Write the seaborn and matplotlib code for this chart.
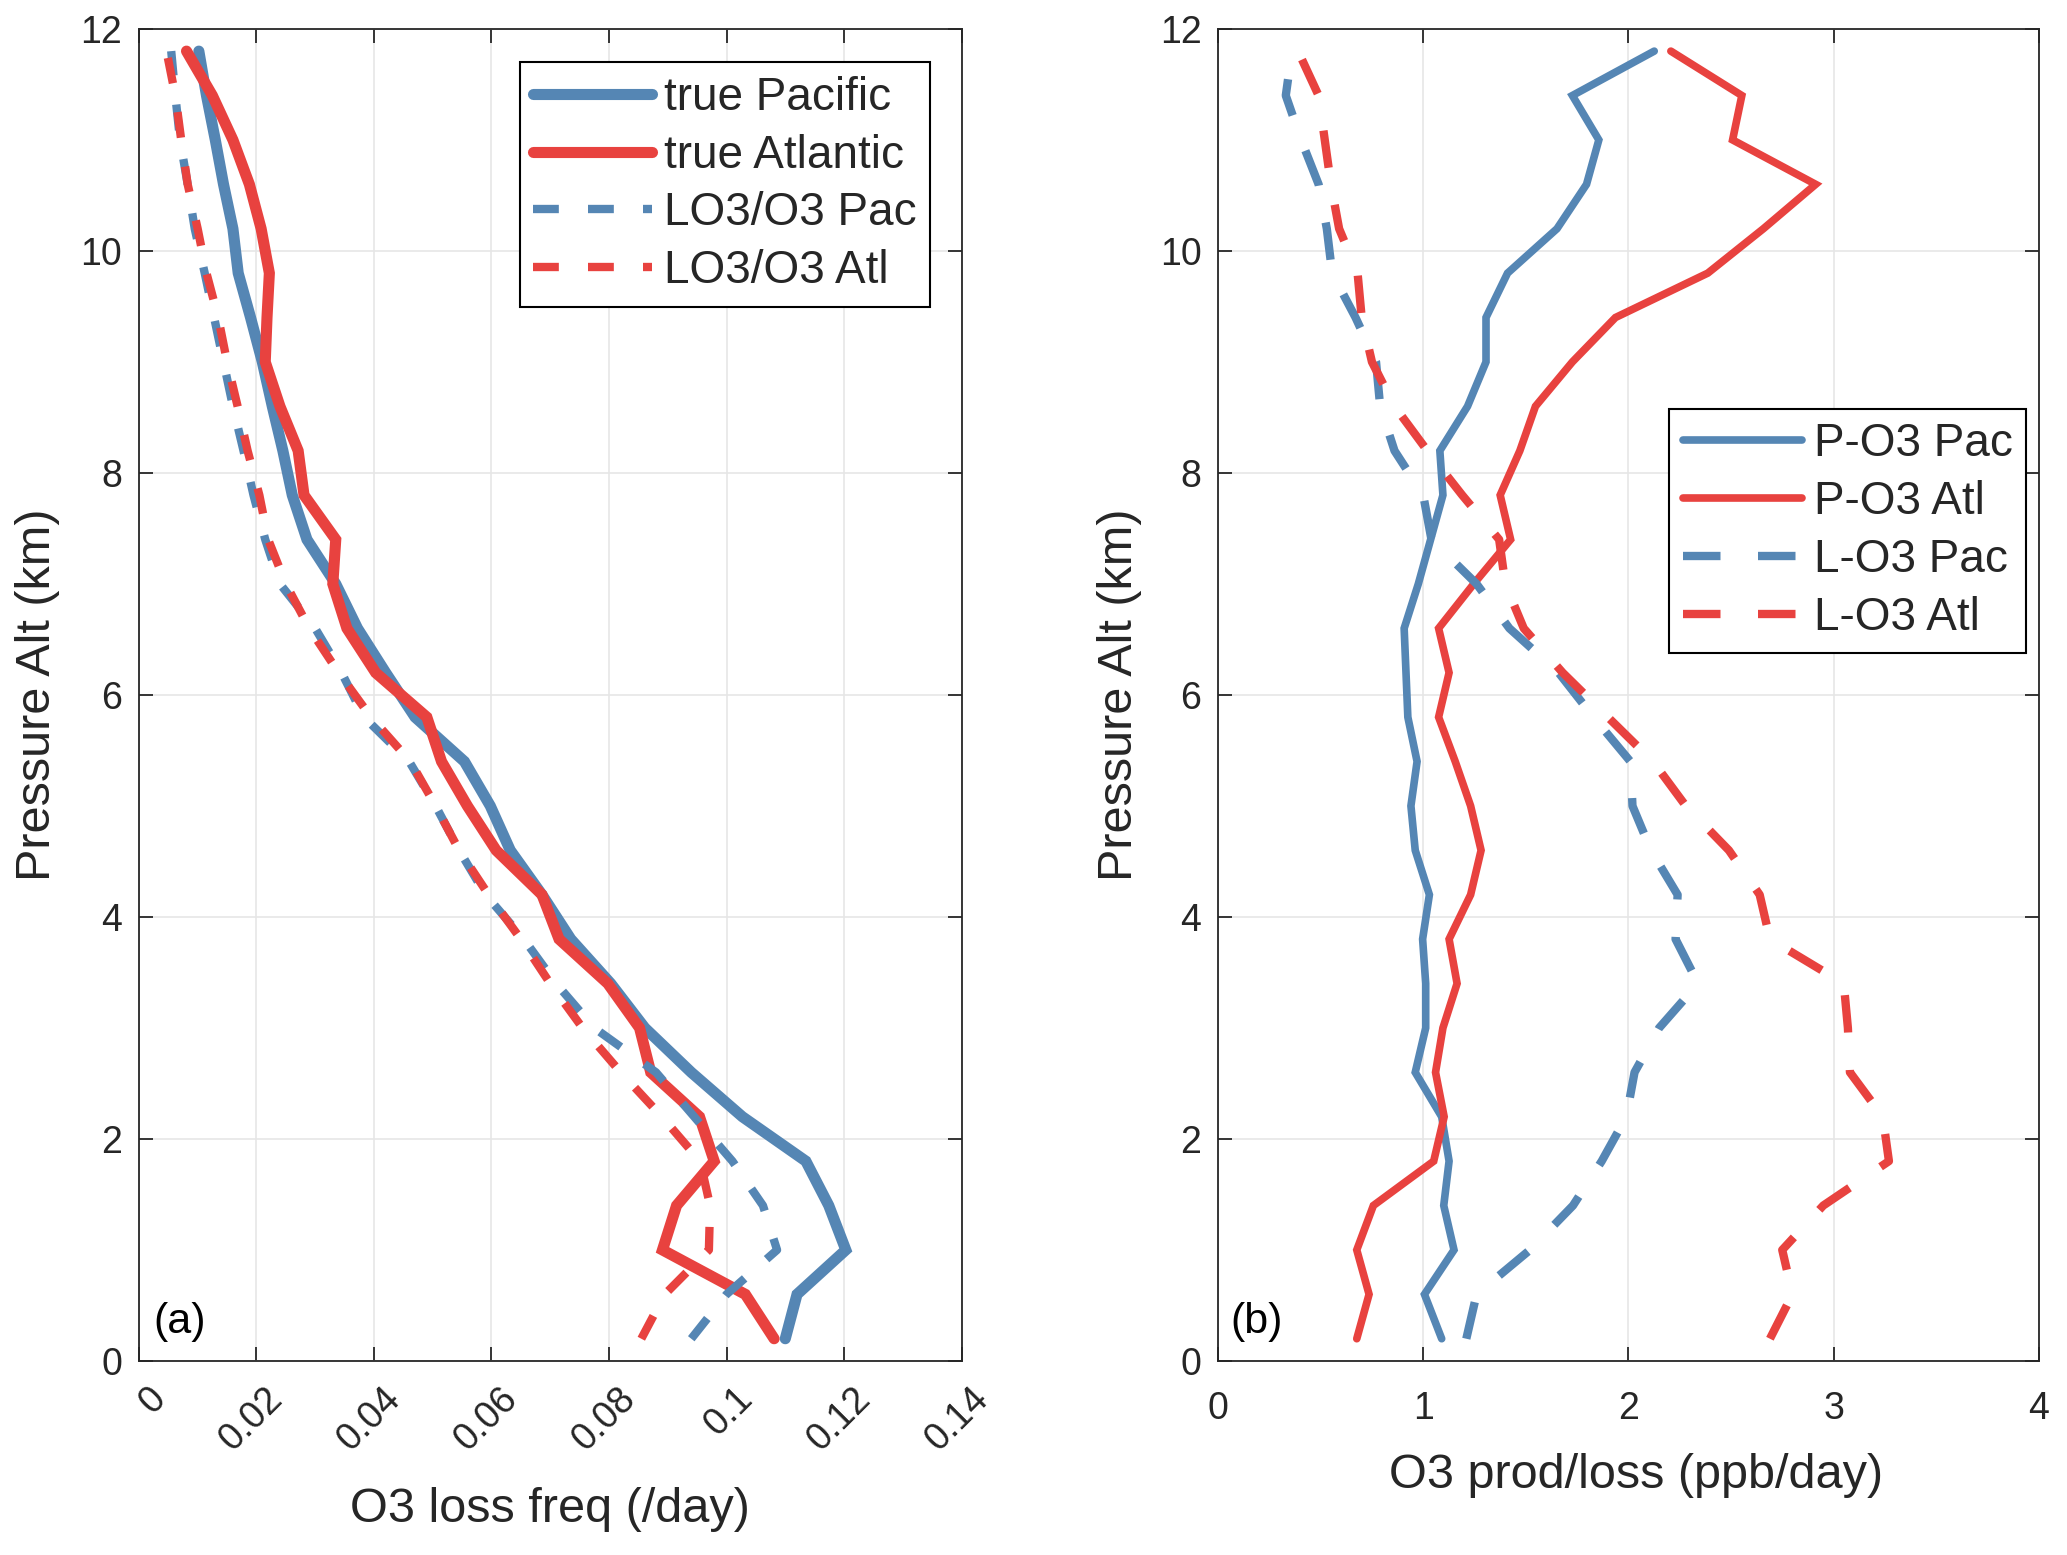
import numpy as np
import pandas as pd
import matplotlib
matplotlib.use("Agg")
import matplotlib.pyplot as plt
from matplotlib.transforms import ScaledTranslation
import seaborn as sns

# ---------------- data ----------------
alt = [0.2, 0.6, 1.0, 1.4, 1.8, 2.2, 2.6, 3.0, 3.4, 3.8, 4.2, 4.6, 5.0, 5.4, 5.8,
       6.2, 6.6, 7.0, 7.4, 7.8, 8.2, 8.6, 9.0, 9.4, 9.8, 10.2, 10.6, 11.0, 11.4, 11.8]

# panel (a): O3 loss frequency (/day)
true_pacific = [0.110, 0.112, 0.1203, 0.1174, 0.1135, 0.1027, 0.094, 0.0861, 0.0803, 0.0735,
                0.0686, 0.0632, 0.0598, 0.0554, 0.0470, 0.0420, 0.0372, 0.0335, 0.0286, 0.0261,
                0.0245, 0.0227, 0.0210, 0.0190, 0.0169, 0.0160, 0.0144, 0.0130, 0.0115, 0.0102]
true_atlantic = [0.1081, 0.1032, 0.0891, 0.0915, 0.0979, 0.0954, 0.0871, 0.0852, 0.0798, 0.0715,
                 0.0686, 0.0608, 0.0559, 0.0515, 0.0490, 0.0403, 0.0354, 0.0330, 0.0335, 0.0281,
                 0.0271, 0.0240, 0.0215, 0.0218, 0.0222, 0.0208, 0.0188, 0.0160, 0.0125, 0.0081]
lo3_pac = [0.0940, 0.1000, 0.1086, 0.1062, 0.1010, 0.0945, 0.0880, 0.0775, 0.0710, 0.0655,
           0.0590, 0.0545, 0.0505, 0.0460, 0.0383, 0.0345, 0.0300, 0.0240, 0.0215, 0.0195,
           0.0178, 0.0160, 0.0144, 0.0128, 0.0112, 0.0095, 0.0083, 0.0070, 0.0062, 0.0055]
lo3_atl = [0.0855, 0.0895, 0.0970, 0.0972, 0.0955, 0.0890, 0.0820, 0.0755, 0.0700, 0.0650,
           0.0595, 0.0545, 0.0505, 0.0462, 0.0395, 0.0340, 0.0290, 0.0250, 0.0220, 0.0205,
           0.0185, 0.0168, 0.0150, 0.0135, 0.0115, 0.0100, 0.0083, 0.0072, 0.0062, 0.0047]

# panel (b): O3 production / loss (ppb/day)
p_o3_pac = [1.09, 1.006, 1.15, 1.10, 1.126, 1.09, 0.961, 1.012, 1.012, 0.997,
            1.03, 0.961, 0.94, 0.97, 0.925, 0.916, 0.907, 0.976, 1.036, 1.096,
            1.081, 1.216, 1.306, 1.306, 1.411, 1.652, 1.796, 1.856, 1.727, 2.126]
p_o3_atl = [0.676, 0.736, 0.676, 0.757, 1.051, 1.102, 1.06, 1.096, 1.165, 1.126,
            1.231, 1.282, 1.231, 1.156, 1.075, 1.126, 1.075, 1.246, 1.426, 1.375,
            1.471, 1.547, 1.727, 1.937, 2.387, 2.658, 2.913, 2.508, 2.553, 2.207]
l_o3_pac = [1.21, 1.26, 1.52, 1.73, 1.87, 1.99, 2.03, 2.15, 2.34, 2.23,
            2.24, 2.11, 2.02, 2.01, 1.83, 1.66, 1.42, 1.26, 1.04, 1.00,
            0.86, 0.79, 0.77, 0.67, 0.556, 0.53, 0.49, 0.405, 0.33, 0.36]
l_o3_atl = [2.69, 2.80, 2.75, 2.95, 3.27, 3.24, 3.08, 3.07, 3.05, 2.69,
            2.64, 2.49, 2.28, 2.12, 1.90, 1.68, 1.49, 1.40, 1.37, 1.19,
            1.02, 0.86, 0.75, 0.70, 0.68, 0.59, 0.55, 0.52, 0.49, 0.39]

left_xticks = [0, 0.02, 0.04, 0.06, 0.08, 0.10, 0.12, 0.14]
left_xticklabels = ["0", "0.02", "0.04", "0.06", "0.08", "0.1", "0.12", "0.14"]
right_xticks = [0, 1, 2, 3, 4]
right_xticklabels = ["0", "1", "2", "3", "4"]
yticks = [0, 2, 4, 6, 8, 10, 12]
yticklabels = ["0", "2", "4", "6", "8", "10", "12"]

# ---------------- style ----------------
sns.set_theme(style="white")
plt.rcParams["font.family"] = ["Liberation Sans", "DejaVu Sans"]

BLUE = "#5586b4"
RED = "#e8423f"
DARK = "#262626"
GRID = "#e6e6e6"

fig = plt.figure(figsize=(20.67, 15.55), dpi=100)
axL = fig.add_axes([0.0672, 0.1248, 0.398, 0.8566])
axR = fig.add_axes([0.5893, 0.1248, 0.397, 0.8566])


def series_plot(ax, xvals, label, color, lw, ls):
    df = pd.DataFrame({"x": xvals, "alt": alt})
    sns.lineplot(data=df, x="x", y="alt", sort=False, estimator=None, orient="y",
                 color=color, linewidth=lw, linestyle=ls, label=label, ax=ax,
                 solid_joinstyle="miter", dash_capstyle="butt")


# left panel
series_plot(axL, true_pacific, "true Pacific", BLUE, 8.0, "-")
series_plot(axL, true_atlantic, "true Atlantic", RED, 8.0, "-")
series_plot(axL, lo3_pac, "LO3/O3 Pac", BLUE, 6.0, (0, (3.1, 3.5)))
series_plot(axL, lo3_atl, "LO3/O3 Atl", RED, 6.0, (0, (3.1, 3.5)))

# right panel
series_plot(axR, p_o3_pac, "P-O3 Pac", BLUE, 5.5, "-")
series_plot(axR, p_o3_atl, "P-O3 Atl", RED, 5.5, "-")
series_plot(axR, l_o3_pac, "L-O3 Pac", BLUE, 6.0, (0, (4.5, 4.5)))
series_plot(axR, l_o3_atl, "L-O3 Atl", RED, 6.0, (0, (4.5, 4.5)))

TICK_FS = 27
LABEL_FS = 35
LEG_FS = 33

for ax in (axL, axR):
    ax.set_ylim(0, 12)
    ax.set_yticks(yticks)
    ax.set_yticklabels(yticklabels)
    ax.grid(True, color=GRID, linewidth=1.2)
    ax.set_axisbelow(True)
    for sp in ax.spines.values():
        sp.set_visible(True)
        sp.set_color(DARK)
        sp.set_linewidth(1.3)
    ax.tick_params(axis="both", which="major", direction="in", length=10, width=1.3,
                   color=DARK, labelcolor=DARK, labelsize=TICK_FS,
                   top=True, right=True, bottom=True, left=True)
    ax.tick_params(axis="y", pad=12)
    ax.set_ylabel("Pressure Alt (km)", fontsize=LABEL_FS, color=DARK)

axL.set_xlim(0, 0.14)
axL.tick_params(axis="x", pad=23)
axL.set_xticks(left_xticks)
lbls = axL.set_xticklabels(left_xticklabels, rotation=45, ha="right", va="center",
                           rotation_mode="anchor")
for t in lbls:
    t.set_transform(t.get_transform() + ScaledTranslation(0.21, 0, fig.dpi_scale_trans))
axL.set_xlabel("O3 loss freq (/day)", fontsize=LABEL_FS, color=DARK)

axR.set_xlim(0, 4)
axR.tick_params(axis="x", pad=22)
axR.set_xticks(right_xticks)
axR.set_xticklabels(right_xticklabels)
axR.set_xlabel("O3 prod/loss (ppb/day)", fontsize=LABEL_FS, color=DARK)

axL.yaxis.set_label_coords(-0.096, 0.5)
axR.yaxis.set_label_coords(-0.093, 0.5)
axL.xaxis.set_label_coords(0.5, -0.095)
axR.xaxis.set_label_coords(0.509, -0.069)

axL.text(0.017, 0.014, "(a)", transform=axL.transAxes, fontsize=31, color="black",
         ha="left", va="bottom")
axR.text(0.015, 0.014, "(b)", transform=axR.transAxes, fontsize=31, color="black",
         ha="left", va="bottom")

leg_kw = dict(fontsize=LEG_FS, frameon=True, fancybox=False, framealpha=1,
              edgecolor="black", handlelength=2.6, handletextpad=0.25,
              labelspacing=0.3, borderpad=0.3, borderaxespad=0.0, loc="upper right")
h, l = axL.get_legend_handles_labels()
legL = axL.legend(h, l, bbox_to_anchor=(0.962, 0.975), **leg_kw)
legL.get_frame().set_linewidth(1.5)
h, l = axR.get_legend_handles_labels()
legR = axR.legend(h, l, bbox_to_anchor=(0.985, 0.715), **leg_kw)
legR.get_frame().set_linewidth(1.5)

fig.savefig("out.png", dpi=100, facecolor="white")
